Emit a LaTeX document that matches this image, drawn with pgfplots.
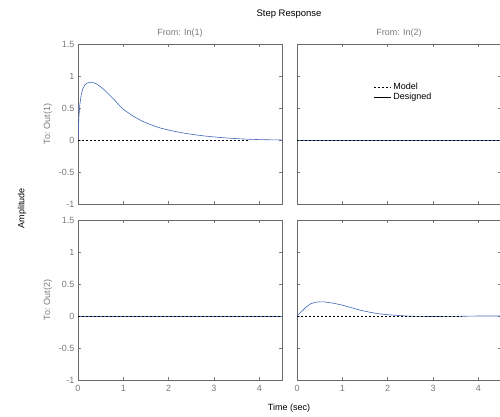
\documentclass[border=0pt]{standalone}
\usepackage{pgfplots}
\pgfplotsset{compat=1.18}
\usepackage{fontspec}
\setmainfont{Liberation Sans}
\definecolor{mblue}{HTML}{3F67BA}
\definecolor{mgray}{HTML}{7A7A7A}
\definecolor{mframe}{HTML}{6A6A6A}
\pgfplotsset{mp/.style={
  scale only axis,
  width=204pt, height=160pt,
  xmin=0, xmax=4.5, ymin=-1, ymax=1.5,
  xtick={0,1,2,3,4},
  ytick={-1,-0.5,0,0.5,1,1.5},
  tick align=inside, tick pos=both,
  major tick length=3pt,
  axis line style={draw=mframe},
  tick style={mgray, line width=0.5pt},
  tick label style={font=\fontsize{9}{10}\selectfont, text=mgray},
  xticklabel style={yshift=-2pt},
  /pgf/number format/assume math mode=true,
  title style={font=\fontsize{9}{10}\selectfont, text=mgray, yshift=-3pt},
  ylabel style={font=\fontsize{9}{10}\selectfont, text=mgray},
  every axis plot/.append style={line width=0.6pt},
  anchor=south west,
}}

\begin{document}
\begin{tikzpicture}[x=1pt, y=1pt]
\useasboundingbox (0,0) rectangle (500,416);

% top left
\begin{axis}[mp, at={(78pt,212pt)}, xticklabels={},
  title={From: In(1)}, ylabel={To: Out(1)}]
\addplot[mblue] coordinates {
  (0,0) (0.01,0.2) (0.02,0.36) (0.04,0.55) (0.07,0.7) (0.1,0.79)
  (0.15,0.86) (0.2,0.89) (0.3,0.905) (0.4,0.88) (0.5,0.83)
  (0.6,0.77) (0.7,0.70) (0.8,0.63) (0.9,0.55) (1.0,0.48)
  (1.2,0.38) (1.4,0.30) (1.6,0.24) (1.8,0.19) (2.0,0.155)
  (2.2,0.125) (2.4,0.10) (2.6,0.08) (2.8,0.062) (3.0,0.048)
  (3.3,0.03) (3.6,0.017) (4.0,0.006) (4.5,0)
};
\addplot[black, dash pattern=on 2pt off 2pt] coordinates {(0,0) (3.75,0)};
\end{axis}

% top right
\begin{axis}[mp, at={(297pt,212pt)}, xticklabels={}, yticklabels={},
  title={From: In(2)},
  legend style={draw=none, fill=none, at={(0.36,0.78)}, anchor=north west,
    font=\fontsize{9}{10}\selectfont, row sep=-2pt},
  legend cell align=left]
\addplot[mblue, forget plot] coordinates {(0,0) (4.5,0)};
\addplot[black, dash pattern=on 2pt off 2pt, forget plot] coordinates {(0,0) (4.5,0)};
\addlegendimage{black, dash pattern=on 2pt off 2pt}
\addlegendentry{Model}
\addlegendimage{black}
\addlegendentry{Designed}
\end{axis}

% bottom left
\begin{axis}[mp, at={(78pt,36pt)}, ylabel={To: Out(2)}]
\addplot[mblue] coordinates {(0,0) (4.5,0)};
\addplot[black, dash pattern=on 2pt off 2pt] coordinates {(0,0) (4.5,0)};
\end{axis}

% bottom right
\begin{axis}[mp, at={(297pt,36pt)}, yticklabels={}]
\addplot[mblue] coordinates {
  (0,0) (0.1,0.07) (0.2,0.14) (0.3,0.19) (0.4,0.213) (0.5,0.222)
  (0.6,0.22) (0.8,0.20) (1.0,0.17) (1.2,0.13) (1.4,0.09)
  (1.6,0.06) (1.8,0.035) (2.0,0.02) (2.2,0.01) (2.5,-0.004)
  (3.0,-0.008) (3.6,-0.005) (4.0,0) (4.5,0)
};
\addplot[black, dash pattern=on 2pt off 2pt] coordinates {(0,0) (3.65,0)};
\end{axis}

\node[font=\fontsize{9.5}{11}\selectfont] at (289,402) {Step Response};
\node[font=\fontsize{9}{10}\selectfont, rotate=90] at (22,208) {Amplitude};
\node[font=\fontsize{9}{10}\selectfont] at (289,8) {Time (sec)};
\end{tikzpicture}
\end{document}
